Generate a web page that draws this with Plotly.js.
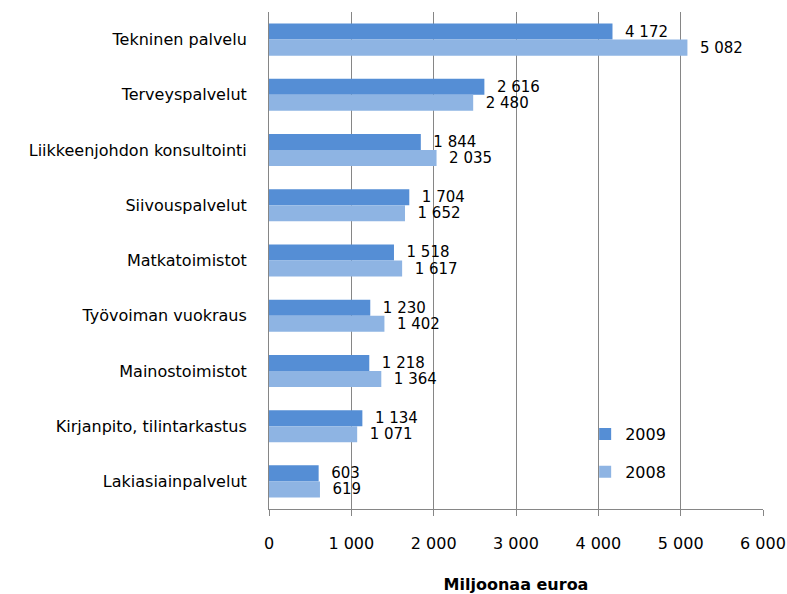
<!DOCTYPE html>
<html><head><meta charset="utf-8">
<script src="https://cdn.plot.ly/plotly-3.0.1.min.js"></script>
<style>html,body{margin:0;padding:0;background:#fff}#chart{width:787px;height:594px}</style>
</head><body><div id="chart"></div>
<script>
const categories = ["Tekninen palvelu","Terveyspalvelut","Liikkeenjohdon konsultointi","Siivouspalvelut","Matkatoimistot","Työvoiman vuokraus","Mainostoimistot","Kirjanpito, tilintarkastus","Lakiasiainpalvelut"];
const values2009 = [4172,2616,1844,1704,1518,1230,1218,1134,603];
const values2008 = [5082,2480,2035,1652,1617,1402,1364,1071,619];
const seriesNames = ["2009","2008"];
const xTicks = [0,1000,2000,3000,4000,5000,6000];

const fmt = v => v.toString().replace(/\B(?=(\d{3})+(?!\d))/g, ' ');
const FONT = "DejaVu Sans, Verdana, sans-serif";
const FS = 16;

const traces = [
  {type:'bar', orientation:'h', name:seriesNames[0], y:categories, x:values2009,
   marker:{color:'#558ED5'}, text:values2009.map(v=>'  '+fmt(v)), textposition:'outside', constraintext:'none',
   textfont:{family:FONT,size:15,color:'#000'}, cliponaxis:false, legendgroup:'a', hoverinfo:'x'},
  {type:'bar', orientation:'h', name:seriesNames[1], y:categories, x:values2008,
   marker:{color:'#8EB4E3'}, text:values2008.map(v=>'  '+fmt(v)), textposition:'outside', constraintext:'none',
   textfont:{family:FONT,size:15,color:'#000'}, cliponaxis:false, legendgroup:'b', hoverinfo:'x'}
];

const layout = {
  width:787, height:594,
  margin:{l:269, r:24, t:12, b:85},
  paper_bgcolor:'#fff', plot_bgcolor:'#fff',
  font:{family:FONT, size:FS, color:'#000'},
  barmode:'group', bargap:0.42, bargroupgap:0,
  showlegend:true,
  legend:{x:0.64, y:0.185, xanchor:'left', yanchor:'top', traceorder:'grouped', tracegroupgap:14,
          font:{family:FONT,size:FS,color:'#000'}, bgcolor:'rgba(0,0,0,0)'},
  xaxis:{range:[0,6000], tickvals:xTicks, ticktext:xTicks.map(fmt), showgrid:true, gridcolor:'#868686', gridwidth:1,
         zeroline:false, showline:true, linecolor:'#868686', ticks:'outside', ticklen:6, tickcolor:'#868686',
         ticklabelstandoff:14,
         tickfont:{family:FONT,size:FS,color:'#000'},
         title:{text:'<b>Miljoonaa euroa</b>', font:{family:FONT,size:FS,color:'#000'}, standoff:26}, fixedrange:true},
  yaxis:{type:'category', autorange:'reversed', showgrid:false, zeroline:false, showline:true, linecolor:'#868686',
         ticks:'', ticklabelstandoff:18, tickfont:{family:FONT,size:FS,color:'#000'}, fixedrange:true}
};

Plotly.newPlot('chart', traces, layout, {displayModeBar:false, staticPlot:true});
</script></body></html>
